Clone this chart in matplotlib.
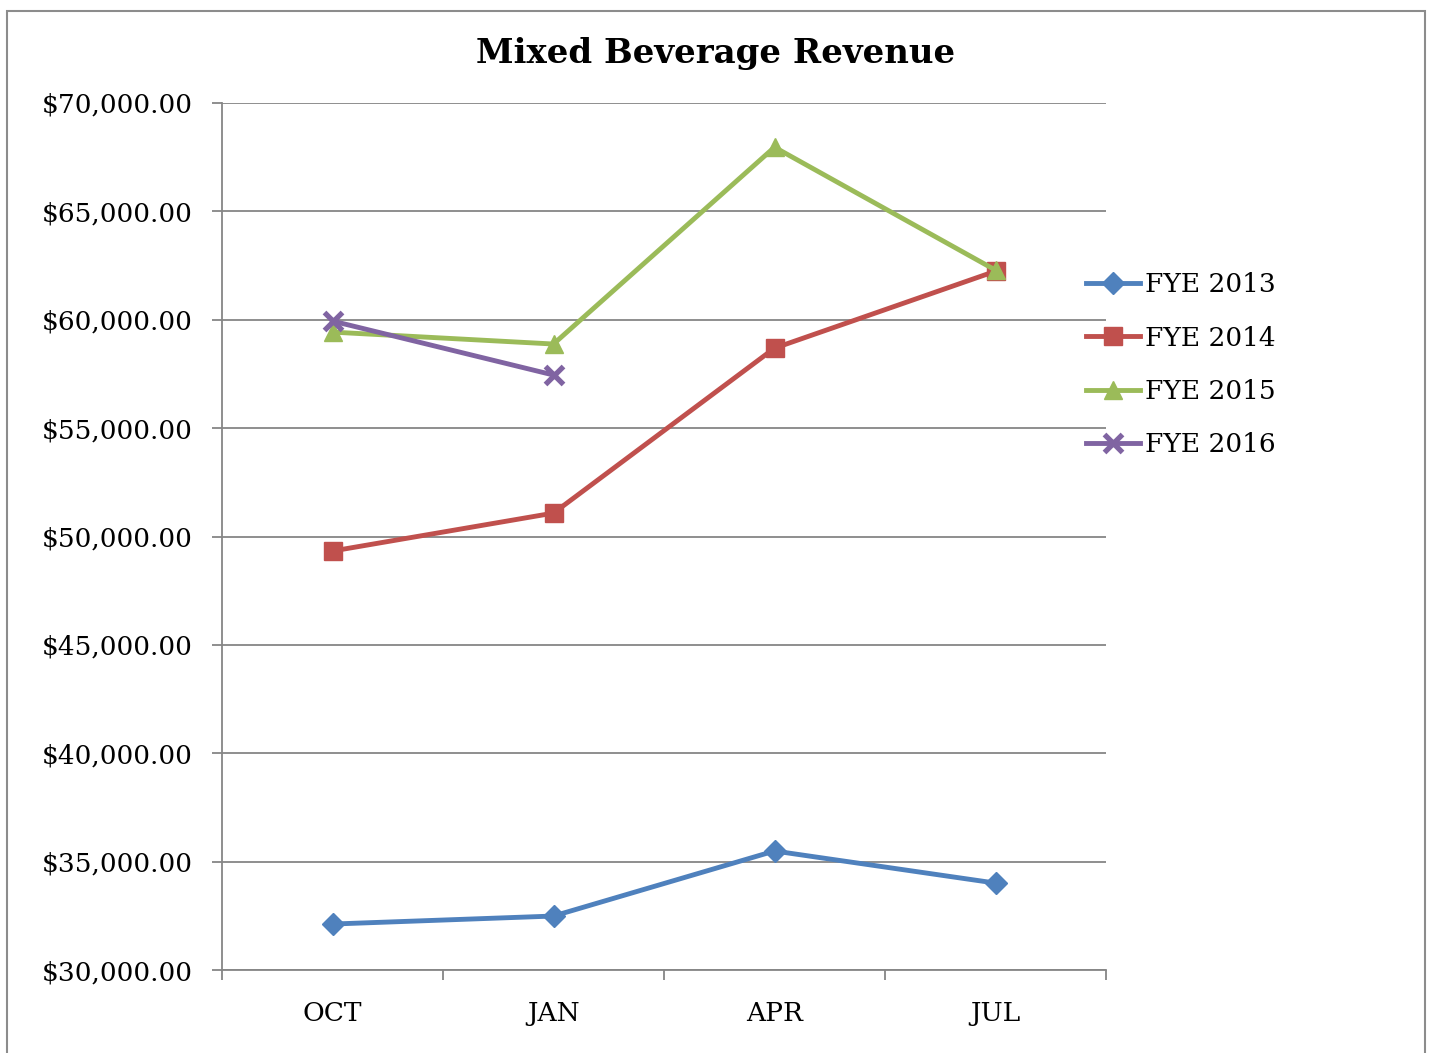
import matplotlib
matplotlib.use("Agg")
import matplotlib.pyplot as plt
from matplotlib.patches import Rectangle
from matplotlib.ticker import FuncFormatter

months = ["OCT", "JAN", "APR", "JUL"]
fye2013 = [32120, 32490, 35490, 34010]
fye2014 = [49330, 51080, 58690, 62240]
fye2015 = [59430, 58880, 67960, 62290]
fye2016 = [59940, 57450]
series_names = ["FYE 2013", "FYE 2014", "FYE 2015", "FYE 2016"]
y_ticks = [30000, 35000, 40000, 45000, 50000, 55000, 60000, 65000, 70000]

plt.rcParams['font.family'] = ['DejaVu Serif']

fig = plt.figure(figsize=(14.3, 10.53), dpi=100)
fig.patches.append(Rectangle((7/1430, -0.05), (1425-7)/1430, 1.05 - 11/1053,
                             transform=fig.transFigure, fill=False,
                             edgecolor='#8c8c8c', linewidth=1.5))
ax = fig.add_axes([222/1430, 83/1053, 884/1430, 867/1053])

grid_c = '#868686'
x = list(range(len(months)))
styles = [
    (fye2013, '#4F81BD', 'D', 11),
    (fye2014, '#C0504D', 's', 13),
    (fye2015, '#9BBB59', '^', 13),
    (fye2016, '#8064A2', 'x', 13),
]
for (vals, col, mk, ms), name in zip(styles, series_names):
    kw = dict(color=col, linewidth=3.5, marker=mk, markersize=ms, label=name)
    if mk == 'x':
        kw.update(markeredgewidth=3.8)
    else:
        kw.update(markeredgecolor=col)
    ax.plot(x[:len(vals)], vals, **kw)

ax.set_xlim(-0.5, 3.5)
ax.set_ylim(30000, 70000)
ax.set_yticks(y_ticks)
ax.yaxis.set_major_formatter(FuncFormatter(lambda v, p: "${:,.2f}".format(v)))
ax.set_xticks([-0.5, 0.5, 1.5, 2.5, 3.5])
ax.set_xticklabels([])
ax.set_xticks(x, minor=True)
ax.set_xticklabels(months, minor=True)
ax.tick_params(axis='x', which='minor', length=0, labelsize=19, pad=22)
ax.tick_params(axis='x', which='major', length=7, width=1.3, color=grid_c, direction='out')
ax.tick_params(axis='y', length=7, width=1.3, color=grid_c, labelsize=19, pad=14)
ax.grid(axis='y', color=grid_c, linewidth=1.3)
ax.set_axisbelow(True)
for s in ['top', 'right']:
    ax.spines[s].set_visible(False)
for s in ['left', 'bottom']:
    ax.spines[s].set_color(grid_c)
    ax.spines[s].set_linewidth(1.3)

fig.text(716/1430, 1 - 53/1053, "Mixed Beverage Revenue", ha='center', va='center',
         fontsize=24.5, fontweight='bold')

leg = fig.legend(loc='upper left', bbox_to_anchor=(1086/1430, 1 - 272/1053),
                 frameon=False, fontsize=19, handlelength=2.05, handletextpad=0.2,
                 labelspacing=1.08, borderaxespad=0, borderpad=0)

fig.savefig("out.png", dpi=100)
